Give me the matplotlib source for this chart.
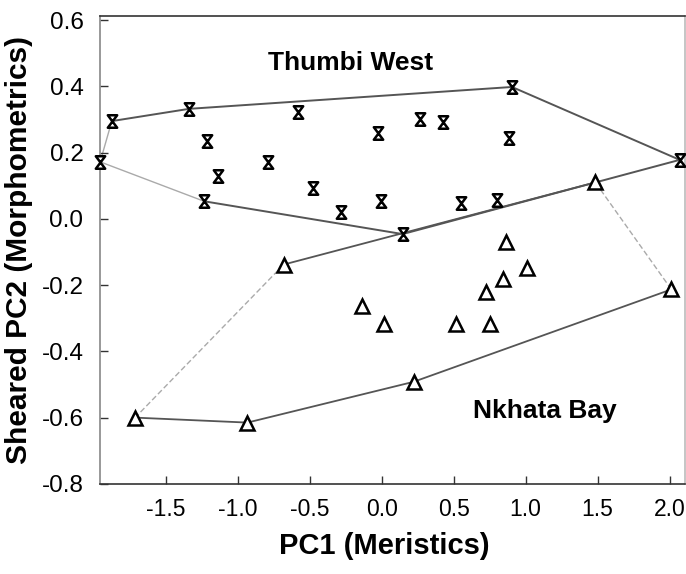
import numpy as np
import matplotlib
matplotlib.use("Agg")
import matplotlib.pyplot as plt
from matplotlib.path import Path

plt.rcParams['font.family'] = ['Liberation Sans', 'DejaVu Sans']

# Thumbi West (hourglass markers)
tw_x = [-1.875, -1.956, -1.338, -1.211, -1.134, -1.234, -0.791, -0.585, -0.478, -0.284,
        -0.029, -0.003, 0.263, 0.423, 0.145, 0.550, 0.801, 0.905, 0.881, 2.070]
tw_y = [0.295, 0.172, 0.332, 0.235, 0.130, 0.053, 0.173, 0.322, 0.093, 0.022,
        0.258, 0.055, 0.300, 0.292, -0.046, 0.048, 0.058, 0.398, 0.245, 0.178]
# hull vertices (indices into tw), in drawing order
tw_hull = [1, 0, 2, 17, 19, 14, 5, 1]

# Nkhata Bay (open triangles)
nb_x = [-0.681, -1.713, -0.933, -0.138, 0.017, 0.516, 0.221, 0.865, 1.009, 0.842,
        0.726, 0.754, 2.012, 1.484]
nb_y = [-0.138, -0.600, -0.615, -0.262, -0.318, -0.318, -0.492, -0.070, -0.147, -0.183,
        -0.220, -0.317, -0.213, 0.110]
nb_hull = [1, 2, 6, 12, 13, 0, 1]

hourglass = Path([(-0.75, 1), (0.75, 1), (-0.75, -1), (0.75, -1), (-0.75, 1)],
                 [Path.MOVETO, Path.LINETO, Path.LINETO, Path.LINETO, Path.CLOSEPOLY])

fig = plt.figure(figsize=(6.86, 5.74), dpi=100)
ax = fig.add_axes([0.146, 0.157, 0.853, 0.815])

line_c = "#555555"
faint_c = "#aaaaaa"

# Thumbi West hull, first segment faint
hx = [tw_x[i] for i in tw_hull]
hy = [tw_y[i] for i in tw_hull]
ax.plot(hx[:2], hy[:2], color=faint_c, lw=1.0, zorder=1)
ax.plot(hx[1:-1], hy[1:-1], color=line_c, lw=1.4, zorder=1)
ax.plot(hx[-2:], hy[-2:], color=faint_c, lw=1.0, zorder=1)

# Nkhata Bay hull; two edges are faint dotted
nx = [nb_x[i] for i in nb_hull]
ny = [nb_y[i] for i in nb_hull]
for k in range(len(nx) - 1):
    seg_x = nx[k:k + 2]
    seg_y = ny[k:k + 2]
    if k in (3, 5):
        ax.plot(seg_x, seg_y, color=faint_c, lw=1.0, ls=(0, (4, 2)), zorder=1)
    else:
        ax.plot(seg_x, seg_y, color=line_c, lw=1.3, zorder=1)

ax.plot(tw_x, tw_y, ls="none", marker=hourglass, markersize=9, mfc="white",
        mec="black", mew=1.8, zorder=3, clip_on=False)
ax.plot(nb_x, nb_y, ls="none", marker="^", markersize=10, mfc="white",
        mec="black", mew=1.8, zorder=3, clip_on=False)

ax.text(-0.219, 0.47, "Thumbi West", fontsize=19, fontweight="bold", ha="center", va="center")
ax.text(1.136, -0.579, "Nkhata Bay", fontsize=19, fontweight="bold", ha="center", va="center")

ax.set_xlim(-1.956, 2.109)
ax.set_ylim(-0.792, 0.612)
ax.set_xticks(np.arange(-1.5, 2.01, 0.5))
ax.set_xticklabels(["-1.5", "-1.0", "-0.5", "0.0", "0.5", "1.0", "1.5", "2.0"])
ax.set_yticks(np.arange(-0.8, 0.61, 0.2))
ax.set_yticklabels(["-0.8", "-0.6", "-0.4", "-0.2", "0.0", "0.2", "0.4", "0.6"])
ax.tick_params(direction="in", length=6, width=1, color="#333333", labelsize=16.5, pad=10)
ax.tick_params(axis="y", pad=12, labelsize=17.5)

for s in ax.spines.values():
    s.set_color("#333333")
    s.set_linewidth(1.2)
ax.spines["left"].set_color("#888888")
ax.spines["right"].set_color("#bbbbbb")

ax.set_xlabel("PC1 (Meristics)", fontsize=21, fontweight="bold")
ax.xaxis.set_label_coords(0.485, -0.102)
ax.set_ylabel("Sheared PC2 (Morphometrics)", fontsize=21.5, fontweight="bold", labelpad=6)

fig.savefig("out.png", dpi=100)
